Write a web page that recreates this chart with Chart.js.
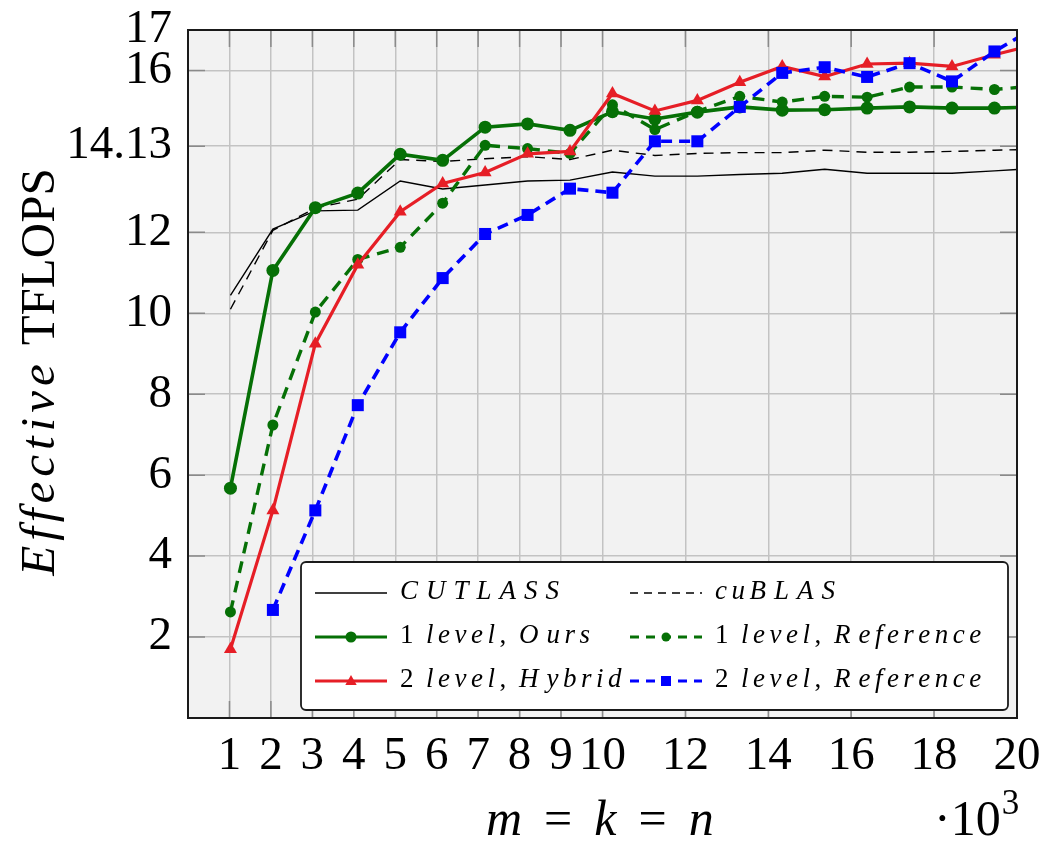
<!DOCTYPE html>
<html>
<head>
<meta charset="utf-8">
<script src="https://cdn.jsdelivr.net/npm/chart.js@4.4.1/dist/chart.umd.min.js"></script>
<style>
    html, body { margin: 0; padding: 0; background: #fff; }
    #wrap { width: 1046px; height: 842px; }
</style>
</head>
<body>
<div id="wrap"><canvas id="flopsChart" width="1046" height="842"></canvas></div>
<script>
// Matrix sizes m = k = n (in thousands, multiples of 1024)
const sizes = [1.024, 2.048, 3.072, 4.096, 5.12, 6.144, 7.168, 8.192, 9.216, 10.24,
               11.264, 12.288, 13.312, 14.336, 15.36, 16.384, 17.408, 18.432, 19.456, 20.48];
const xTicks = [1, 2, 3, 4, 5, 6, 7, 8, 9, 10, 12, 14, 16, 18, 20];
const yTicks = [2, 4, 6, 8, 10, 12, 14.13, 16, 17];

// Effective TFLOPS per series
const cutlass  = [10.44, 12.08, 12.53, 12.55, 13.27, 13.07, 13.17, 13.27, 13.29, 13.49,
                  13.39, 13.39, 13.43, 13.46, 13.56, 13.46, 13.46, 13.46, 13.52, 13.58];
const cublas   = [10.10, 12.05, 12.60, 12.82, 13.80, 13.75, 13.82, 13.87, 13.80, 14.03,
                  13.90, 13.95, 13.97, 13.97, 14.03, 13.98, 13.98, 14.00, 14.03, 14.05];
const oneOurs  = [5.68, 11.06, 12.61, 12.97, 13.93, 13.78, 14.60, 14.68, 14.52, 14.98,
                  14.80, 14.97, 15.10, 15.02, 15.03, 15.07, 15.10, 15.07, 15.07, 15.10];
const oneRef   = [2.62, 7.24, 10.03, 11.33, 11.63, 12.72, 14.15, 14.07, 13.95, 15.15,
                  14.54, 14.99, 15.36, 15.22, 15.36, 15.34, 15.59, 15.59, 15.53, 15.62];
const twoHyb   = [1.70, 5.13, 9.25, 11.20, 12.51, 13.21, 13.48, 13.94, 14.00, 15.43,
                  15.00, 15.26, 15.71, 16.10, 15.85, 16.16, 16.18, 16.10, 16.39, 16.65];
const twoRef   = [null, 2.67, 5.13, 7.73, 9.53, 10.87, 11.96, 12.43, 13.08, 12.98,
                  14.25, 14.25, 15.10, 15.94, 16.08, 15.84, 16.18, 15.73, 16.47, 17.09];

const SERIF = "'Liberation Serif', 'Times New Roman', serif";
const GREEN = '#067006';
const RED = '#e61e26';
const BLUE = '#0000ff';

function toPoints(values) {
    return sizes.map((x, i) => ({ x: x, y: values[i] }));
}

// draw text char by char: letters italic (math), digits/punctuation upright
function drawMath(ctx, text, x, y, size, spacing, capExtra) {
    let cx = x || 0;
    const start = cx;
    for (const ch of text) {
        if (ch === ' ') { cx += size * 0.3; continue; }
        const letter = /[A-Za-z]/.test(ch);
        ctx.font = (letter ? 'italic ' : '') + size + 'px ' + SERIF;
        if (x !== null) ctx.fillText(ch, cx, y);
        cx += ctx.measureText(ch).width + spacing;
        if (/[A-Z]/.test(ch)) cx += capExtra || 0;
    }
    return cx - start;
}

function markerPath(ctx, style, x, y, r) {
    ctx.beginPath();
    if (style === 'circle') {
        ctx.arc(x, y, r, 0, Math.PI * 2);
    } else if (style === 'triangle') {
        ctx.moveTo(x, y - r);
        ctx.lineTo(x + r * 0.95, y + r * 0.65);
        ctx.lineTo(x - r * 0.95, y + r * 0.65);
        ctx.closePath();
    } else if (style === 'rect') {
        ctx.rect(x - r, y - r, 2 * r, 2 * r);
    }
}

const plotFrame = {
    id: 'plotFrame',
    beforeDraw(chart) {
        const { ctx, chartArea: a } = chart;
        ctx.save();
        ctx.fillStyle = '#f2f2f2';
        ctx.fillRect(a.left, a.top, a.right - a.left, a.bottom - a.top);
        ctx.restore();
    },
    beforeDatasetsDraw(chart) {
        // pgfplots style inward tick marks
        const { ctx, chartArea: a, scales } = chart;
        const len = 17;
        ctx.save();
        ctx.strokeStyle = '#8a8a8a';
        ctx.lineWidth = 1.5;
        ctx.beginPath();
        xTicks.forEach(v => {
            const px = scales.x.getPixelForValue(v);
            ctx.moveTo(px, a.bottom); ctx.lineTo(px, a.bottom - len);
            ctx.moveTo(px, a.top); ctx.lineTo(px, a.top + len);
        });
        yTicks.forEach(v => {
            const py = scales.y.getPixelForValue(v);
            ctx.moveTo(a.left, py); ctx.lineTo(a.left + len, py);
            ctx.moveTo(a.right, py); ctx.lineTo(a.right - len, py);
        });
        ctx.stroke();
        ctx.restore();
    },
    afterDraw(chart) {
        const { ctx, chartArea: a } = chart;
        ctx.save();
        ctx.strokeStyle = '#1a1a1a';
        ctx.lineWidth = 2;
        ctx.strokeRect(a.left, a.top, a.right - a.left, a.bottom - a.top);

        // y title: Effective TFLOPS
        ctx.fillStyle = '#000';
        ctx.textBaseline = 'alphabetic';
        ctx.textAlign = 'left';
        const ySize = 49;
        const w1 = drawMath(ctx, 'Effective', null, 0, ySize, 5);
        ctx.font = ySize + 'px ' + SERIF;
        const w2 = ctx.measureText('TFLOPS').width;
        const gap = 14;
        const total = w1 + gap + w2;
        ctx.save();
        ctx.translate(54, 372);
        ctx.rotate(-Math.PI / 2);
        drawMath(ctx, 'Effective', -total / 2, 0, ySize, 5);
        ctx.font = ySize + 'px ' + SERIF;
        ctx.fillText('TFLOPS', -total / 2 + w1 + gap, 0);
        ctx.restore();

        // x title: m = k = n
        const xs = 50;
        const base = 835;
        const parts = [['m', true], ['=', false], ['k', true], ['=', false], ['n', true]];
        let cx = 486;
        parts.forEach(([t, it]) => {
            ctx.font = (it ? 'italic ' : '') + xs + 'px ' + SERIF;
            ctx.fillText(t, cx, base);
            cx += ctx.measureText(t).width + 22;
        });

        // multiplier label
        ctx.font = xs + 'px ' + SERIF;
        ctx.fillText('\u00b710', 934, base);
        const mw = ctx.measureText('\u00b710').width;
        ctx.font = '35px ' + SERIF;
        ctx.fillText('3', 934 + mw + 1, base - 21);
        ctx.restore();
    }
};

const cornerLegend = {
    id: 'cornerLegend',
    afterDraw(chart) {
        const ctx = chart.ctx;
        const box = { x: 301, y: 562, w: 707, h: 148 };
        ctx.save();
        ctx.beginPath();
        ctx.roundRect(box.x, box.y, box.w, box.h, 5);
        ctx.fillStyle = '#fff';
        ctx.fill();
        ctx.strokeStyle = '#1a1a1a';
        ctx.lineWidth = 1.8;
        ctx.stroke();

        const cols = [315, 630];
        const rows = [593, 637, 681];
        const sampleLen = 72;
        chart.data.datasets.forEach((ds, i) => {
            const sx = cols[i % 2];
            const sy = rows[Math.floor(i / 2)];
            ctx.save();
            ctx.strokeStyle = ds.borderColor;
            ctx.lineWidth = Math.min(ds.borderWidth, 3);
            ctx.setLineDash(ds.legendDash || []);
            ctx.beginPath();
            ctx.moveTo(sx, sy);
            ctx.lineTo(sx + sampleLen, sy);
            ctx.stroke();
            ctx.setLineDash([]);
            if (ds.pointRadius > 0) {
                ctx.fillStyle = ds.borderColor;
                markerPath(ctx, ds.pointStyle, sx + sampleLen / 2, sy, ds.legendRadius);
                ctx.fill();
            }
            ctx.restore();
            ctx.fillStyle = '#000';
            ctx.textBaseline = 'alphabetic';
            drawMath(ctx, ds.label, sx + 85, sy + 6, 27, 4.5, 3.5);
        });
        ctx.restore();
    }
};

const ctx = document.getElementById('flopsChart');

new Chart(ctx, {
    type: 'line',
    data: {
        datasets: [
            {
                label: 'CUTLASS', data: toPoints(cutlass),
                borderColor: '#000', borderWidth: 1.4, pointRadius: 0, order: 5
            },
            {
                label: 'cuBLAS', data: toPoints(cublas),
                borderColor: '#000', borderWidth: 1.4, borderDash: [10, 7], legendDash: [8, 6],
                pointRadius: 0, order: 4
            },
            {
                label: '1 level, Ours', data: toPoints(oneOurs),
                borderColor: GREEN, backgroundColor: GREEN, borderWidth: 3.6,
                pointStyle: 'circle', pointRadius: 6.5, pointBorderWidth: 0, legendRadius: 5.5, order: 3
            },
            {
                label: '1 level, Reference', data: toPoints(oneRef),
                borderColor: GREEN, backgroundColor: GREEN, borderWidth: 3.4, borderDash: [12, 8], legendDash: [9, 7],
                pointStyle: 'circle', pointRadius: 5.5, pointBorderWidth: 0, legendRadius: 4.5, order: 2
            },
            {
                label: '2 level, Hybrid', data: toPoints(twoHyb),
                borderColor: RED, backgroundColor: RED, borderWidth: 3.2,
                pointStyle: 'triangle', pointRadius: 7.5, pointBorderWidth: 0, legendRadius: 6, order: 1
            },
            {
                label: '2 level, Reference', data: toPoints(twoRef),
                borderColor: BLUE, backgroundColor: BLUE, borderWidth: 3.6, borderDash: [11, 7], legendDash: [9, 7],
                pointStyle: 'rect', pointRadius: 8.5, pointBorderWidth: 0, legendRadius: 5, order: 0
            }
        ]
    },
    options: {
        responsive: false,
        animation: false,
        devicePixelRatio: 1,
        layout: { padding: { top: 30, right: 29, left: 0, bottom: 0 } },
        elements: { line: { tension: 0, fill: false } },
        plugins: {
            legend: { display: false },
            tooltip: { enabled: false }
        },
        scales: {
            x: {
                type: 'linear',
                min: 0,
                max: 20,
                afterBuildTicks: scale => { scale.ticks = xTicks.map(v => ({ value: v })); },
                afterFit: scale => {
                    scale.height = 124;
                    scale.paddingLeft = 0;
                    scale.paddingRight = 0;
                },
                grid: { color: '#c3c3c3', lineWidth: 1.5, drawTicks: false },
                border: { display: false },
                ticks: {
                    autoSkip: false, maxRotation: 0, minRotation: 0, padding: 10,
                    color: '#000', font: { family: SERIF, size: 47 },
                    callback: v => String(v)
                }
            },
            y: {
                type: 'linear',
                min: 0,
                max: 17,
                afterBuildTicks: scale => { scale.ticks = yTicks.map(v => ({ value: v })); },
                afterFit: scale => {
                    scale.width = 188;
                    scale.paddingTop = 0;
                    scale.paddingBottom = 0;
                },
                grid: { color: '#c3c3c3', lineWidth: 1.5, drawTicks: false },
                border: { display: false },
                ticks: {
                    padding: 16, color: '#000', font: { family: SERIF, size: 47 },
                    callback: v => String(v)
                }
            }
        }
    },
    plugins: [plotFrame, cornerLegend]
});
</script>
</body>
</html>
